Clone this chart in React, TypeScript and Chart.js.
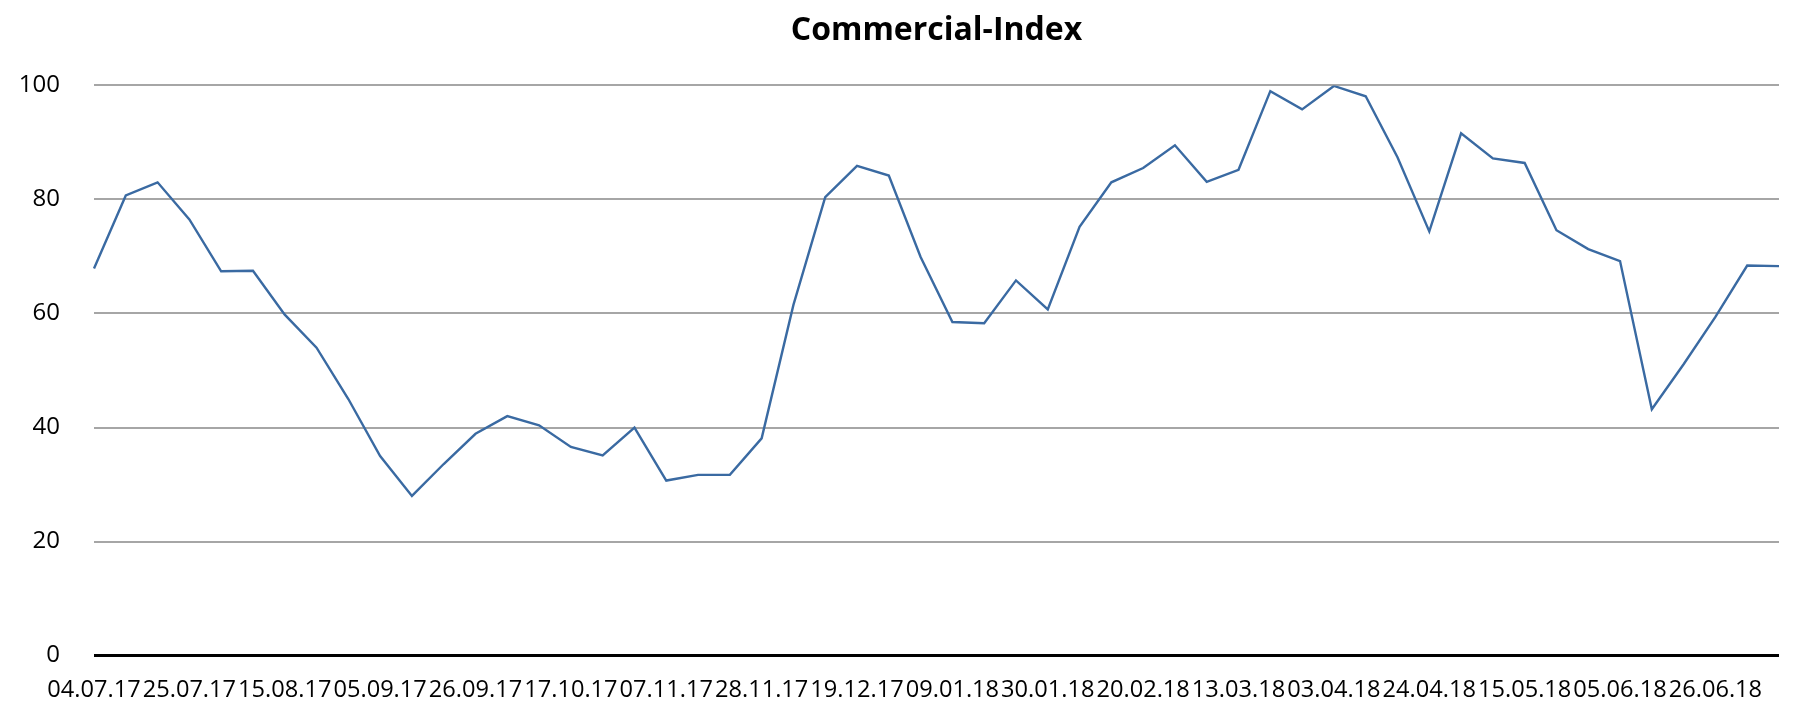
import React, { useEffect, useRef } from "react";
import { Chart, registerables } from "chart.js";

Chart.register(...registerables);

const chartTitle = "Commercial-Index";

const weekLabels = [
  "04.07.17", "11.07.17", "18.07.17", "25.07.17", "01.08.17", "08.08.17",
  "15.08.17", "22.08.17", "29.08.17", "05.09.17", "12.09.17", "19.09.17",
  "26.09.17", "03.10.17", "10.10.17", "17.10.17", "24.10.17", "31.10.17",
  "07.11.17", "14.11.17", "21.11.17", "28.11.17", "05.12.17", "12.12.17",
  "19.12.17", "26.12.17", "02.01.18", "09.01.18", "16.01.18", "23.01.18",
  "30.01.18", "06.02.18", "13.02.18", "20.02.18", "27.02.18", "06.03.18",
  "13.03.18", "20.03.18", "27.03.18", "03.04.18", "10.04.18", "17.04.18",
  "24.04.18", "01.05.18", "08.05.18", "15.05.18", "22.05.18", "29.05.18",
  "05.06.18", "12.06.18", "19.06.18", "26.06.18", "03.07.18", "10.07.18",
];

const indexValues = [
  67.9, 80.7, 83.0, 76.5, 67.4, 67.5, 59.8, 54.0, 45.0, 35.0, 28.0, 33.6,
  38.9, 42.0, 40.4, 36.6, 35.1, 40.0, 30.7, 31.7, 31.7, 38.1, 61.5, 80.4,
  85.9, 84.2, 69.9, 58.5, 58.3, 65.8, 60.7, 75.2, 83.0, 85.5, 89.5, 83.1,
  85.2, 99.0, 95.8, 99.9, 98.1, 87.4, 74.4, 91.6, 87.2, 86.4, 74.6, 71.3,
  69.2, 43.2, 51.1, 59.4, 68.4, 68.3,
];

const yTicks = [0, 20, 40, 60, 80, 100];
const labelEvery = 3;

export default function App() {
  const canvasRef = useRef<HTMLCanvasElement | null>(null);

  useEffect(() => {
    if (!canvasRef.current) return;
    const chart = new Chart(canvasRef.current, {
      type: "line",
      data: {
        labels: weekLabels,
        datasets: [
          {
            label: chartTitle,
            data: indexValues,
            borderColor: "#3A6AA2",
            borderWidth: 2.4,
            pointRadius: 0,
            pointHoverRadius: 0,
            tension: 0,
            fill: false,
          },
        ],
      },
      options: {
        animation: false,
        responsive: true,
        maintainAspectRatio: false,
        layout: { padding: 0 },
        plugins: {
          legend: { display: false },
          tooltip: { enabled: false },
          title: {
            display: true,
            text: chartTitle,
            fullSize: false,
            color: "#000",
            font: { family: "'Open Sans', sans-serif", size: 32, weight: "bold", lineHeight: 1.2 },
            padding: { top: 12, bottom: 35 },
          },
        },
        scales: {
          x: {
            type: "category",
            offset: false,
            grid: { display: false, drawTicks: false },
            border: { display: false },
            ticks: {
              autoSkip: false,
              maxRotation: 0,
              minRotation: 0,
              padding: 21,
              color: "#000",
              font: { family: "'Open Sans', sans-serif", size: 23.6 },
              callback: (_v: any, i: number) => (i % labelEvery === 0 ? weekLabels[i] : ""),
            },
            afterFit: (scale: any) => {
              scale.height = 45;
            },
          },
          y: {
            min: yTicks[0],
            max: yTicks[yTicks.length - 1],
            grid: {
              drawTicks: false,
              color: (ctx: any) => (ctx.tick && ctx.tick.value === 0 ? "#000" : "#A6A6A6"),
              lineWidth: (ctx: any) => (ctx.tick && ctx.tick.value === 0 ? 3 : 2),
            },
            border: { display: false },
            afterBuildTicks: (scale: any) => {
              scale.ticks = yTicks.map((v) => ({ value: v }));
            },
            ticks: {
              padding: 34,
              color: "#000",
              font: { family: "'Open Sans', sans-serif", size: 24 },
            },
            afterFit: (scale: any) => {
              scale.width = 94;
            },
          },
        },
      },
    });
    return () => chart.destroy();
  }, []);

  return (
    <div style={{ position: "absolute", left: 0, top: 0, width: 1800, height: 704, background: "#fff" }}>
      <canvas ref={canvasRef} />
    </div>
  );
}
